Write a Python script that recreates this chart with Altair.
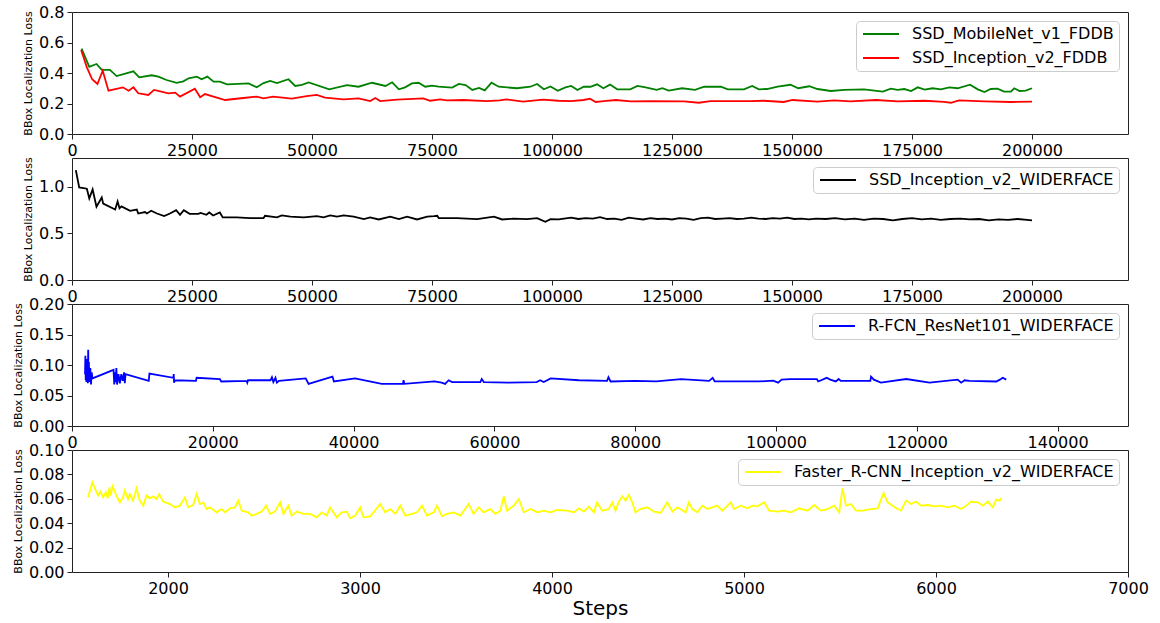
import altair as alt
import pandas as pd

FONT = "DejaVu Sans"

# ---------------- data (step, loss) ----------------
SSD_MOBILENET_FDDB = [
    (2000, 0.560), (3600, 0.441), (5100, 0.459), (6200, 0.420), (7900, 0.420), (9300, 0.380),
    (12800, 0.411), (14000, 0.372), (16600, 0.385), (18000, 0.376), (19700, 0.354), (21800, 0.336),
    (23200, 0.345), (24300, 0.365), (26000, 0.376), (27000, 0.359), (28200, 0.376), (29500, 0.343),
    (30800, 0.343), (32300, 0.326), (36800, 0.332), (38500, 0.306), (39900, 0.334), (41300, 0.348),
    (42700, 0.334), (45100, 0.359), (46500, 0.315), (47900, 0.322), (49300, 0.338), (53600, 0.293),
    (57300, 0.321), (59700, 0.310), (62500, 0.336), (65300, 0.315), (66700, 0.339), (68100, 0.293),
    (69400, 0.306), (70800, 0.332), (72200, 0.336), (73600, 0.310), (75000, 0.317), (76400, 0.310),
    (79200, 0.304), (80600, 0.328), (82000, 0.321), (83400, 0.289), (84800, 0.302), (86000, 0.286),
    (87400, 0.336), (88900, 0.310), (92700, 0.300), (95500, 0.310), (96900, 0.328), (98300, 0.293),
    (99700, 0.312), (101200, 0.283), (102800, 0.306), (104000, 0.315), (105300, 0.289), (106600, 0.310),
    (108000, 0.310), (109400, 0.326), (110700, 0.300), (112100, 0.324), (113600, 0.293), (116300, 0.293),
    (117800, 0.315), (119500, 0.306), (121800, 0.289), (123000, 0.300), (124300, 0.284), (127100, 0.300),
    (129800, 0.289), (131700, 0.310), (135200, 0.310), (136600, 0.293), (140000, 0.293), (141700, 0.315),
    (143100, 0.293), (144800, 0.295), (147000, 0.310), (149700, 0.323), (151300, 0.300), (153600, 0.313),
    (155300, 0.295), (158100, 0.282), (160900, 0.289), (165000, 0.293), (168900, 0.278), (170600, 0.297),
    (172000, 0.289), (173400, 0.295), (174800, 0.282), (176200, 0.306), (177600, 0.291), (179300, 0.300),
    (181000, 0.293), (182800, 0.306), (184500, 0.300), (187100, 0.323), (188700, 0.293), (190100, 0.275),
    (191400, 0.295), (192800, 0.297), (194200, 0.278), (195600, 0.278), (196300, 0.300), (197400, 0.282),
    (198700, 0.284), (200000, 0.300),
]

SSD_INCEPTION_FDDB = [
    (1900, 0.551), (3100, 0.437), (4200, 0.359), (5300, 0.328), (6400, 0.415), (7600, 0.284),
    (10600, 0.306), (11800, 0.284), (12800, 0.306), (13800, 0.267), (15900, 0.256), (17100, 0.289),
    (20100, 0.267), (21500, 0.271), (22500, 0.245), (25600, 0.297), (26700, 0.241), (27700, 0.262),
    (31900, 0.223), (35700, 0.236), (38500, 0.245), (39900, 0.234), (41900, 0.245), (45800, 0.232),
    (48900, 0.249), (51000, 0.256), (52700, 0.238), (56600, 0.227), (59700, 0.234), (62100, 0.216),
    (63200, 0.236), (64200, 0.216), (67700, 0.225), (73200, 0.234), (74600, 0.218), (76700, 0.227),
    (78100, 0.221), (81500, 0.223), (86400, 0.216), (89100, 0.221), (90500, 0.227), (94000, 0.212),
    (98100, 0.225), (101300, 0.218), (103900, 0.216), (106600, 0.223), (107900, 0.232), (109100, 0.210),
    (110800, 0.216), (113300, 0.223), (116400, 0.214), (120500, 0.216), (127500, 0.214), (130600, 0.205),
    (133000, 0.216), (141400, 0.216), (144100, 0.218), (148300, 0.210), (150100, 0.223), (155300, 0.212),
    (158800, 0.221), (162200, 0.214), (167500, 0.223), (172000, 0.214), (177600, 0.218), (181700, 0.210),
    (183100, 0.205), (184800, 0.221), (190100, 0.214), (195600, 0.210), (200000, 0.212),
]

SSD_INCEPTION_WIDER = [
    (800, 1.179), (1500, 0.994), (3100, 0.980), (3600, 0.876), (4300, 0.972), (5100, 0.786),
    (6200, 0.886), (6500, 0.820), (9000, 0.757), (9500, 0.843), (9900, 0.770), (10300, 0.790),
    (12100, 0.743), (13500, 0.757), (13800, 0.714), (15200, 0.730), (15600, 0.714), (16500, 0.743),
    (17700, 0.714), (19200, 0.686), (20400, 0.714), (21700, 0.750), (22500, 0.700), (23300, 0.750),
    (24500, 0.710), (26300, 0.710), (26800, 0.720), (28000, 0.700), (28600, 0.725), (29400, 0.693),
    (30800, 0.725), (31400, 0.672), (34300, 0.672), (37100, 0.664), (39900, 0.664), (40200, 0.690),
    (42700, 0.672), (43700, 0.693), (45500, 0.680), (48300, 0.672), (51000, 0.686), (52400, 0.672),
    (53800, 0.693), (55200, 0.680), (56600, 0.693), (58700, 0.680), (60800, 0.654), (62100, 0.672),
    (63900, 0.650), (66300, 0.680), (68100, 0.654), (69800, 0.680), (71900, 0.650), (74000, 0.680),
    (75400, 0.686), (76100, 0.690), (76400, 0.664), (80200, 0.664), (84400, 0.654), (87900, 0.680),
    (89600, 0.650), (92000, 0.658), (94800, 0.654), (96900, 0.664), (98600, 0.625), (99700, 0.654),
    (101400, 0.650), (102500, 0.660), (104000, 0.670), (105500, 0.655), (107000, 0.665), (108500, 0.660),
    (110000, 0.675), (111500, 0.655), (113000, 0.660), (114500, 0.645), (116000, 0.670), (117500, 0.660),
    (119000, 0.650), (120500, 0.665), (122000, 0.655), (123500, 0.660), (125000, 0.650), (126500, 0.665),
    (128000, 0.660), (129500, 0.645), (131000, 0.665), (132500, 0.670), (134000, 0.655), (135500, 0.660),
    (137000, 0.665), (138500, 0.655), (140000, 0.660), (141500, 0.670), (143000, 0.660), (144500, 0.655),
    (146000, 0.665), (147500, 0.660), (149000, 0.670), (150500, 0.655), (152000, 0.660), (153500, 0.650),
    (155000, 0.660), (157000, 0.655), (159000, 0.665), (161000, 0.650), (163000, 0.660), (165000, 0.645),
    (167000, 0.660), (169000, 0.655), (171000, 0.640), (173000, 0.655), (175000, 0.665), (177000, 0.650),
    (179000, 0.660), (181000, 0.645), (183000, 0.655), (185000, 0.660), (187000, 0.650), (189000, 0.655),
    (191000, 0.640), (193000, 0.650), (195000, 0.645), (197000, 0.655), (199000, 0.645), (200000, 0.640),
]

RFCN_RESNET101_WIDER = [
    (1850, 0.085), (1900, 0.115), (1950, 0.075), (2000, 0.105), (2050, 0.072), (2100, 0.110),
    (2150, 0.078), (2200, 0.095), (2250, 0.070), (2300, 0.125), (2350, 0.075), (2400, 0.105),
    (2450, 0.072), (2500, 0.090), (2550, 0.080), (2600, 0.095), (2700, 0.068), (2800, 0.088),
    (2900, 0.078), (5900, 0.092), (6000, 0.068), (6100, 0.088), (6200, 0.072), (6300, 0.095),
    (6400, 0.068), (6600, 0.085), (6800, 0.070), (7000, 0.085), (7200, 0.074), (7400, 0.088),
    (7500, 0.070), (7600, 0.085), (10900, 0.074), (11000, 0.086), (14400, 0.079), (14450, 0.085),
    (14500, 0.071), (14600, 0.075), (17600, 0.074), (17700, 0.079), (21000, 0.077), (21200, 0.073),
    (24800, 0.074), (24900, 0.071), (25000, 0.075), (28200, 0.075), (28400, 0.080), (28600, 0.072),
    (28900, 0.079), (29100, 0.071), (29400, 0.074), (33200, 0.078), (33600, 0.069), (37000, 0.081),
    (37200, 0.073), (40200, 0.078), (44000, 0.069), (47000, 0.069), (47100, 0.075), (47200, 0.069),
    (51500, 0.073), (52500, 0.071), (53000, 0.069), (53500, 0.075), (54000, 0.072), (58000, 0.072),
    (58200, 0.077), (58500, 0.072), (62000, 0.071), (66000, 0.072), (66500, 0.075), (67000, 0.072),
    (68000, 0.078), (72000, 0.075), (76000, 0.074), (76200, 0.080), (76500, 0.073), (80000, 0.074),
    (83000, 0.073), (86500, 0.077), (90500, 0.074), (91000, 0.079), (91300, 0.073), (97700, 0.073),
    (99600, 0.0745), (100300, 0.071), (100800, 0.076), (102000, 0.077), (105800, 0.077), (106000, 0.073),
    (107200, 0.079), (107700, 0.076), (108500, 0.073), (108900, 0.077), (109200, 0.074), (113400, 0.074),
    (113500, 0.081), (113900, 0.076), (114900, 0.071), (118500, 0.077), (121800, 0.071), (125800, 0.076),
    (126300, 0.071), (126800, 0.075), (127500, 0.074), (131300, 0.073), (131800, 0.076), (132200, 0.079),
    (132700, 0.076),
]

FASTER_RCNN_WIDER = [
    (1584, 0.0612), (1606, 0.0735), (1624, 0.0667), (1636, 0.0626), (1648, 0.0658), (1662, 0.0612),
    (1676, 0.0653), (1686, 0.0604), (1695, 0.0694), (1702, 0.0626), (1711, 0.0702), (1731, 0.0626),
    (1749, 0.0571), (1766, 0.0612), (1775, 0.0667), (1792, 0.0598), (1801, 0.0639), (1818, 0.0585),
    (1836, 0.0686), (1853, 0.0585), (1871, 0.0544), (1888, 0.0626), (1905, 0.0604), (1923, 0.0620),
    (1940, 0.0598), (1954, 0.0639), (1975, 0.0577), (2010, 0.0557), (2036, 0.0530), (2062, 0.0544),
    (2088, 0.0612), (2105, 0.0530), (2131, 0.0549), (2149, 0.0639), (2166, 0.0557), (2184, 0.0571),
    (2201, 0.0516), (2218, 0.0530), (2253, 0.0489), (2279, 0.0516), (2297, 0.0489), (2323, 0.0522),
    (2349, 0.0530), (2366, 0.0585), (2384, 0.0503), (2418, 0.0489), (2436, 0.0462), (2462, 0.0476),
    (2488, 0.0495), (2511, 0.0544), (2531, 0.0476), (2557, 0.0495), (2584, 0.0571), (2601, 0.0476),
    (2627, 0.0544), (2644, 0.0462), (2671, 0.0495), (2705, 0.0476), (2740, 0.0476), (2775, 0.0448),
    (2801, 0.0489), (2827, 0.0462), (2844, 0.0530), (2879, 0.0448), (2905, 0.0489), (2931, 0.0495),
    (2949, 0.0440), (2975, 0.0462), (3001, 0.0530), (3018, 0.0448), (3053, 0.0456), (3074, 0.0495),
    (3105, 0.0557), (3131, 0.0489), (3157, 0.0516), (3184, 0.0476), (3210, 0.0544), (3236, 0.0462),
    (3271, 0.0476), (3297, 0.0489), (3323, 0.0544), (3349, 0.0462), (3384, 0.0489), (3401, 0.0544),
    (3427, 0.0456), (3453, 0.0476), (3488, 0.0489), (3523, 0.0462), (3566, 0.0557), (3592, 0.0476),
    (3618, 0.0530), (3644, 0.0489), (3679, 0.0516), (3705, 0.0476), (3731, 0.0503), (3749, 0.0620),
    (3766, 0.0503), (3801, 0.0544), (3827, 0.0598), (3853, 0.0489), (3888, 0.0516), (3923, 0.0489),
    (3957, 0.0503), (3992, 0.0489), (4027, 0.0508), (4079, 0.0503), (4114, 0.0489), (4140, 0.0522),
    (4166, 0.0495), (4192, 0.0536), (4218, 0.0489), (4235, 0.0571), (4261, 0.0503), (4296, 0.0516),
    (4314, 0.0571), (4331, 0.0503), (4348, 0.0577), (4366, 0.0620), (4383, 0.0585), (4400, 0.0631),
    (4418, 0.0571), (4435, 0.0489), (4461, 0.0516), (4496, 0.0530), (4531, 0.0495), (4566, 0.0484),
    (4600, 0.0571), (4627, 0.0495), (4653, 0.0530), (4696, 0.0489), (4713, 0.0571), (4731, 0.0516),
    (4757, 0.0489), (4783, 0.0544), (4809, 0.0516), (4835, 0.0530), (4861, 0.0544), (4887, 0.0503),
    (4914, 0.0544), (4931, 0.0571), (4948, 0.0516), (4983, 0.0544), (5018, 0.0522), (5044, 0.0544),
    (5070, 0.0538), (5105, 0.0571), (5131, 0.0503), (5174, 0.0495), (5209, 0.0503), (5244, 0.0489),
    (5287, 0.0522), (5331, 0.0503), (5366, 0.0549), (5400, 0.0503), (5435, 0.0516), (5470, 0.0544),
    (5496, 0.0489), (5513, 0.0686), (5531, 0.0544), (5557, 0.0557), (5583, 0.0503), (5618, 0.0503),
    (5661, 0.0516), (5696, 0.0522), (5727, 0.0648), (5748, 0.0571), (5774, 0.0544), (5800, 0.0516),
    (5818, 0.0503), (5844, 0.0585), (5870, 0.0557), (5896, 0.0577), (5922, 0.0544), (5957, 0.0549),
    (5992, 0.0538), (6026, 0.0544), (6061, 0.0530), (6096, 0.0544), (6131, 0.0516), (6157, 0.0544),
    (6183, 0.0577), (6218, 0.0571), (6244, 0.0544), (6270, 0.0577), (6296, 0.0530), (6313, 0.0593),
    (6331, 0.0585), (6340, 0.0604),
]

# axis ticks
X_TICKS_200K = [0, 25000, 50000, 75000, 100000, 125000, 150000, 175000, 200000]
X_TICKS_140K = [0, 20000, 40000, 60000, 80000, 100000, 120000, 140000]
X_TICKS_7K = [2000, 3000, 4000, 5000, 6000, 7000]
Y_TICKS_1 = [0.0, 0.2, 0.4, 0.6, 0.8]
Y_TICKS_2 = [0.0, 0.5, 1.0]
Y_TICKS_3 = [0.0, 0.05, 0.10, 0.15, 0.20]
Y_TICKS_4 = [0.0, 0.02, 0.04, 0.06, 0.08, 0.10]


def frame(pairs, name):
    return pd.DataFrame({
        "step": [p[0] for p in pairs],
        "loss": [p[1] for p in pairs],
        "series": name,
    })


W, H = 1056, 122


def panel(frames, names, colors, xdom, xvals, ydom, yvals, yfmt, xtitle=None):
    df = pd.concat(frames, ignore_index=True)
    legend = alt.Legend(
        title=None, orient="top-right", offset=9,
        labelFont=FONT, labelFontSize=16, labelColor="#000000", labelLimit=500,
        symbolType="M-1,0H5", symbolSize=144, symbolStrokeWidth=2,
        labelOffset=35, rowPadding=8, padding=5,
        fillColor="white", strokeColor="#cccccc", cornerRadius=4,
    )
    xaxis_kwargs = dict(values=xvals, format="d", labelFlush=False, labelOverlap=False)
    if xtitle:
        xaxis_kwargs.update(title=xtitle, titleFontSize=20, titleFont=FONT,
                            titleFontWeight="normal", titlePadding=2, titleColor="#000000")
    else:
        xaxis_kwargs.update(title=None)
    return alt.Chart(df).mark_line(strokeWidth=1.8, clip=True).encode(
        x=alt.X("step:Q", scale=alt.Scale(domain=xdom, nice=False, zero=False),
                axis=alt.Axis(**xaxis_kwargs)),
        y=alt.Y("loss:Q", scale=alt.Scale(domain=ydom, nice=False, zero=True),
                axis=alt.Axis(values=yvals, format=yfmt, title="BBox Localization Loss",
                              labelFlush=False, labelOverlap=False)),
        color=alt.Color("series:N", scale=alt.Scale(domain=names, range=colors), legend=legend),
    ).properties(width=W, height=H)


p1 = panel(
    [frame(SSD_MOBILENET_FDDB, "SSD_MobileNet_v1_FDDB"), frame(SSD_INCEPTION_FDDB, "SSD_Inception_v2_FDDB")],
    ["SSD_MobileNet_v1_FDDB", "SSD_Inception_v2_FDDB"], ["#008000", "#ff0000"],
    [0, 220000], X_TICKS_200K, [0, 0.8], Y_TICKS_1, ".1f",
)
p2 = panel(
    [frame(SSD_INCEPTION_WIDER, "SSD_Inception_v2_WIDERFACE")],
    ["SSD_Inception_v2_WIDERFACE"], ["#000000"],
    [0, 220000], X_TICKS_200K, [0, 1.31], Y_TICKS_2, ".1f",
)
p3 = panel(
    [frame(RFCN_RESNET101_WIDER, "R-FCN_ResNet101_WIDERFACE")],
    ["R-FCN_ResNet101_WIDERFACE"], ["#0000ff"],
    [0, 150000], X_TICKS_140K, [0, 0.2], Y_TICKS_3, ".2f",
)
p4 = panel(
    [frame(FASTER_RCNN_WIDER, "Faster_R-CNN_Inception_v2_WIDERFACE")],
    ["Faster_R-CNN_Inception_v2_WIDERFACE"], ["#ffff00"],
    [1500, 7000], X_TICKS_7K, [0, 0.1], Y_TICKS_4, ".2f", xtitle="Steps",
)

chart = alt.vconcat(p1, p2, p3, p4, spacing=24, bounds="flush").resolve_scale(
    color="independent", x="independent", y="independent"
).configure_view(
    stroke="#222222", strokeWidth=1
).configure_axis(
    domain=False, grid=False,
    labelFont=FONT, labelFontSize=16, labelColor="#000000", labelPadding=3,
    tickColor="#222222", tickSize=5, tickWidth=1,
    titleFont=FONT, titleFontSize=11, titleFontWeight="normal", titleColor="#000000", titlePadding=5,
).properties(
    padding={"left": 11, "top": 3, "right": 5, "bottom": 2},
    background="white",
)

chart.save("out.html", embed_options={"renderer": "svg", "actions": False})
